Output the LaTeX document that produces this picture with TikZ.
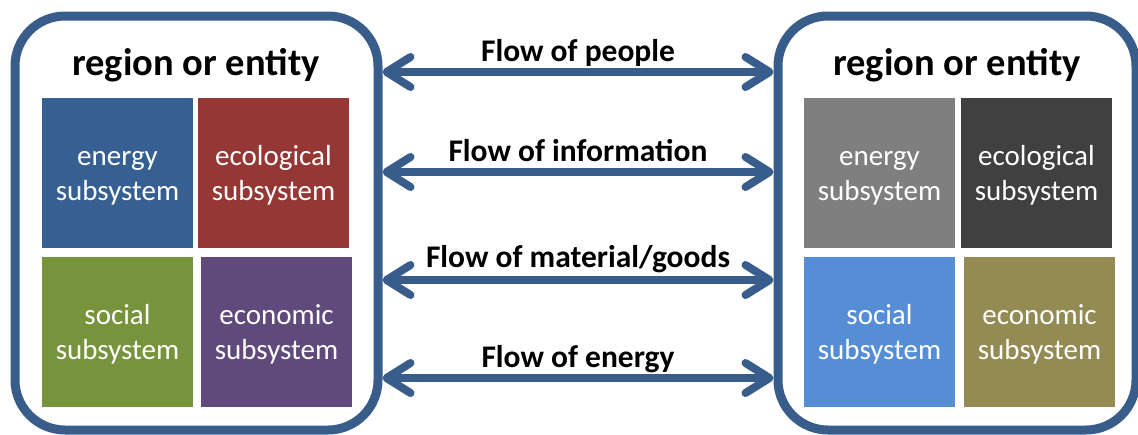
\documentclass[tikz,border=0pt]{standalone}
\usepackage{fontspec}
\setmainfont{Carlito}
\usetikzlibrary{arrows.meta}
\definecolor{frameblue}{HTML}{385D8A}
\definecolor{energyblue}{HTML}{376092}
\definecolor{ecored}{HTML}{953735}
\definecolor{socialgreen}{HTML}{77933C}
\definecolor{econpurple}{HTML}{604A7B}
\definecolor{energygray}{HTML}{7F7F7F}
\definecolor{ecodark}{HTML}{404040}
\definecolor{socialblue}{HTML}{558ED5}
\definecolor{econolive}{HTML}{948A54}
\tikzstyle{region} = [rectangle, rounded corners=50pt, draw=frameblue, line width=9pt, minimum width=363pt, minimum height=414pt]
\tikzstyle{title} = [anchor=base, font=\fontsize{38.5}{46}\selectfont\bfseries]
\tikzstyle{subsys} = [rectangle, minimum width=151pt, minimum height=150pt, text centered, align=center, text=white, font=\fontsize{29}{35}\selectfont, text height=61pt, text depth=7pt]
\tikzstyle{flow} = [line width=8pt, draw=frameblue, {Straight Barb[length=24pt, width=30pt, line cap=round, line join=round]}-{Straight Barb[length=24pt, width=30pt, line cap=round, line join=round]}]
\tikzstyle{flowlabel} = [anchor=base, yshift=11pt, font=\fontsize{31.5}{38}\selectfont\bfseries]

\begin{document}
\begin{tikzpicture}[x=1pt, y=-1pt]
    \useasboundingbox (0,0) rectangle (1138,434);
    % left region
    \node [region] at (196.5,223) (left) {};
    \node [title] at (196,75) (lefttitle) {region or entity};
    \node [subsys, fill=energyblue] at (117.5,173) (lenergy) {energy\\subsystem};
    \node [subsys, fill=ecored] at (273.5,173) (leco) {ecological\\subsystem};
    \node [subsys, fill=socialgreen] at (117.5,332) (lsocial) {social\\subsystem};
    \node [subsys, fill=econpurple] at (276.5,332) (lecon) {economic\\subsystem};
    % right region
    \node [region, minimum width=358pt] at (957,223) (right) {};
    \node [title] at (957,75) (righttitle) {region or entity};
    \node [subsys, fill=energygray] at (879.5,173) (renergy) {energy\\subsystem};
    \node [subsys, fill=ecodark] at (1036.5,173) (reco) {ecological\\subsystem};
    \node [subsys, fill=socialblue] at (879.5,332) (rsocial) {social\\subsystem};
    \node [subsys, fill=econolive] at (1039.5,332) (recon) {economic\\subsystem};
    % flows
    \draw [flow] (left.east |- 0,72) -- node[flowlabel] {Flow of people} (right.west |- 0,72);
    \draw [flow] (left.east |- 0,172) -- node[flowlabel] {Flow of information} (right.west |- 0,172);
    \draw [flow] (left.east |- 0,280) -- node[flowlabel, yshift=2pt] {Flow of material/goods} (right.west |- 0,280);
    \draw [flow] (left.east |- 0,378) -- node[flowlabel] {Flow of energy} (right.west |- 0,378);
\end{tikzpicture}
\end{document}
